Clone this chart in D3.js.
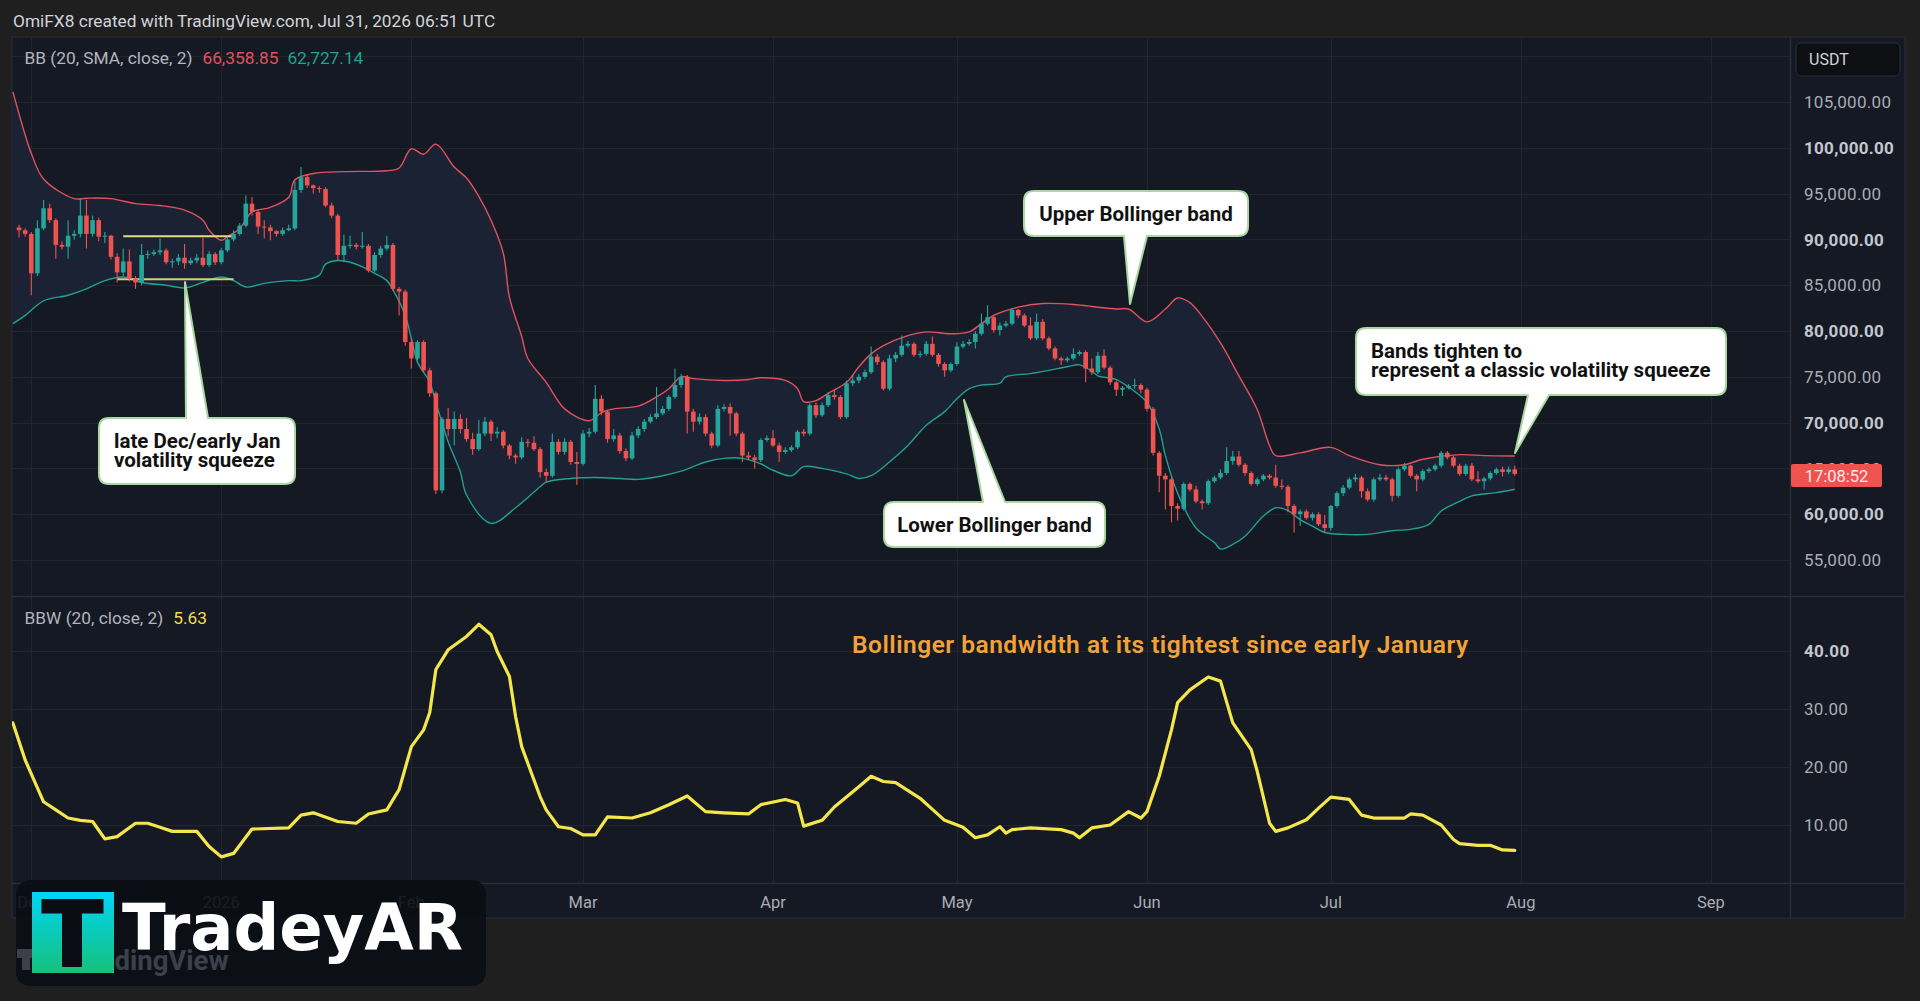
<!DOCTYPE html>
<html><head><meta charset="utf-8">
<script src="https://cdn.jsdelivr.net/npm/d3@7"></script>
<style>
html,body{margin:0;padding:0;background:#1e1e1e;overflow:hidden;}
svg{display:block;}
text{font-family:Roboto,"Noto Sans",sans-serif;}
</style></head><body>
<svg id="c" width="1920" height="1001"></svg>
<script>
// ===== DATA (prices in thousands USDT, daily candles from 2025-11-29) =====
const candleStart = "2025-11-29";
const opens = [91.3,91.0,90.6,86.3,91.2,93.4,92.1,89.4,89.2,90.4,
90.6,92.6,90.6,92.1,90.3,90.4,88.1,86.4,87.6,85.7,
85.3,88.3,88.4,88.6,88.8,87.5,87.6,88.0,87.4,87.7,
88.0,87.2,88.4,87.5,88.8,90.0,90.6,91.5,93.9,93.0,
91.4,91.3,90.9,90.6,91.0,91.2,95.4,96.8,95.9,95.6,
95.5,93.7,92.6,88.3,89.3,89.4,89.2,89.3,86.6,88.3,
89.0,89.4,84.6,84.3,78.8,77.0,78.8,75.7,73.2,62.6,
70.4,69.3,70.4,69.3,68.2,67.1,68.8,70.1,68.8,69.0,
67.5,66.4,66.2,67.9,67.8,67.1,64.6,64.2,67.9,66.8,
67.9,65.7,65.5,68.8,69.0,72.6,71.2,68.2,68.6,66.9,
66.1,68.6,69.3,70.1,70.6,71.0,71.5,72.8,74.1,75.0,
71.2,70.1,70.6,68.8,67.5,71.5,71.7,71.0,68.8,66.4,
66.2,65.9,68.1,68.3,67.5,66.8,67.0,67.3,69.0,68.8,
71.9,70.8,71.9,73.0,72.8,70.6,74.3,74.6,75.0,75.5,
77.2,76.6,73.7,77.0,77.4,78.4,78.6,77.4,77.5,78.6,
77.4,76.4,75.7,76.4,78.3,78.6,78.8,79.7,80.8,81.5,
80.1,80.6,80.8,82.3,81.7,80.6,79.2,81.0,79.2,78.1,
77.0,76.8,77.0,77.5,77.7,75.9,75.5,77.3,76.0,74.4,
73.6,73.8,74.0,74.1,73.6,71.5,66.7,64.2,63.8,60.9,
60.6,63.3,62.7,61.4,61.2,63.6,64.0,64.5,65.8,66.3,
65.4,64.5,63.3,63.8,64.2,64.0,63.1,63.0,60.9,60.0,
60.3,59.6,60.0,58.9,58.5,60.9,62.3,62.9,63.8,64.0,
62.5,61.6,63.8,64.0,63.8,62.0,64.9,65.3,64.2,63.8,
64.7,64.9,65.3,66.7,66.2,65.3,64.4,65.3,63.8,63.6,
63.9,64.5,64.9,64.6,64.9];
const highs = [91.6,91.2,90.8,92.1,94.3,93.9,92.3,89.8,92.1,91.0,
94.5,94.3,92.6,92.4,90.8,90.5,88.5,89.0,88.9,86.0,
89.5,88.8,88.9,90.1,89.0,87.9,88.4,89.5,88.0,88.4,
90.2,88.7,88.6,89.1,90.3,91.0,91.8,94.8,94.6,93.3,
92.1,91.6,91.0,91.3,91.6,96.4,97.9,97.1,96.0,95.8,
95.7,94.0,92.8,90.5,90.4,89.6,90.8,89.5,88.6,89.3,
90.4,89.6,84.8,84.5,79.2,79.0,79.0,76.0,73.4,70.6,
71.6,71.2,70.9,70.5,68.9,70.3,70.6,70.3,69.5,69.2,
67.7,66.6,68.4,68.2,68.5,67.3,65.0,68.8,68.2,68.3,
68.1,66.8,69.2,69.4,74.1,73.0,71.4,69.3,68.9,67.2,
69.0,69.6,70.4,70.9,73.9,71.8,73.0,75.9,75.3,75.2,
71.5,71.0,70.9,69.0,71.9,72.0,72.1,71.2,69.0,66.8,
66.5,68.3,68.6,69.2,67.8,67.3,67.5,69.2,69.3,72.1,
72.2,72.2,73.3,73.5,73.0,74.6,75.2,75.3,75.8,78.3,
77.5,76.8,77.4,77.7,79.5,78.9,78.8,77.8,78.9,79.4,
77.6,76.6,76.6,78.8,78.9,79.1,80.0,81.9,82.8,81.7,
80.9,81.1,82.5,82.4,81.9,81.5,81.9,81.3,79.4,78.3,
77.2,77.2,78.1,77.9,77.9,77.0,77.7,78.0,76.2,74.6,
74.0,74.2,74.8,74.3,73.8,71.7,66.9,64.5,64.0,61.2,
63.5,63.5,63.1,61.6,63.8,64.2,64.9,67.3,66.9,66.9,
65.6,64.7,64.0,64.4,64.4,65.4,63.8,63.2,61.1,60.5,
60.5,60.2,60.2,59.9,61.0,62.5,63.2,64.0,64.4,64.2,
62.8,64.0,64.4,64.3,64.0,65.1,65.6,65.4,64.4,64.9,
65.1,65.5,66.9,66.9,66.4,65.5,65.5,65.6,64.7,64.1,
64.7,65.1,65.2,65.2,65.3];
const lows = [90.2,90.3,83.9,86.0,91.0,91.8,87.9,88.9,87.9,90.0,
90.2,89.0,90.3,89.8,89.6,87.8,85.3,86.0,85.4,84.6,
85.0,87.9,88.2,88.3,87.3,86.9,87.2,86.8,87.2,87.4,
87.0,87.0,87.2,87.3,88.6,89.8,90.4,91.3,92.6,90.6,
90.1,89.9,90.3,90.4,90.9,91.0,95.1,95.6,95.0,95.1,
93.5,92.3,87.7,87.5,89.0,88.9,89.0,86.4,86.4,88.0,
88.8,84.4,81.7,78.4,75.9,76.8,75.5,72.8,62.2,62.3,
68.5,67.5,68.8,67.9,66.5,66.9,68.5,68.0,68.3,67.2,
66.0,65.5,66.0,67.3,66.9,64.0,63.5,64.0,66.5,66.5,
65.4,63.2,65.3,68.4,68.8,70.8,67.8,67.9,66.6,65.8,
65.9,68.3,69.0,69.9,70.4,70.8,71.3,72.6,73.8,68.8,
69.0,69.8,68.5,67.2,67.3,71.2,68.6,68.5,65.7,65.9,
65.0,65.7,67.9,67.3,65.7,66.6,66.8,67.1,68.5,68.6,
70.5,70.6,71.7,72.5,70.4,70.4,74.0,74.3,74.8,75.3,
76.3,73.5,73.5,76.6,77.2,78.2,77.2,77.1,77.3,77.2,
76.1,75.0,75.5,76.2,78.1,78.4,78.1,79.5,80.6,79.8,
79.5,80.4,80.6,81.4,80.4,79.0,79.0,79.0,77.9,76.8,
76.3,76.6,76.8,77.3,74.4,75.2,75.3,75.8,74.1,72.9,
72.9,73.6,73.7,73.2,71.2,66.4,62.4,60.5,59.1,59.3,
60.4,62.5,61.2,60.5,61.0,63.4,63.8,64.3,65.4,65.2,
64.2,63.1,63.1,63.6,63.8,62.9,62.7,60.2,58.0,58.7,
59.4,59.3,58.7,58.0,58.2,60.7,62.0,62.7,63.5,61.8,
61.4,61.4,63.6,63.6,61.4,61.8,64.7,64.0,62.5,63.6,
64.5,64.7,65.1,66.0,65.1,64.2,64.2,63.6,63.4,62.7,
63.7,64.3,64.1,64.4,64.2];
const closes = [91.0,90.6,86.3,91.2,93.4,92.1,89.4,89.2,90.4,90.6,
92.6,90.6,92.1,90.3,90.4,88.1,86.4,87.6,85.7,85.3,
88.3,88.4,88.6,88.8,87.5,87.6,88.0,87.4,87.7,88.0,
87.2,88.4,87.5,88.8,90.0,90.6,91.5,93.9,93.0,91.4,
91.3,90.9,90.6,91.0,91.2,95.4,96.8,95.9,95.6,95.5,
93.7,92.6,88.3,89.3,89.4,89.2,89.3,86.6,88.3,89.0,
89.4,84.6,84.3,78.8,77.0,78.8,75.7,73.2,62.6,70.4,
69.3,70.4,69.3,68.2,67.1,68.8,70.1,68.8,69.0,67.5,
66.4,66.2,67.9,67.8,67.1,64.6,64.2,67.9,66.8,67.9,
65.7,65.5,68.8,69.0,72.6,71.2,68.2,68.6,66.9,66.1,
68.6,69.3,70.1,70.6,71.0,71.5,72.8,74.1,75.0,71.2,
70.1,70.6,68.8,67.5,71.5,71.7,71.0,68.8,66.4,66.2,
65.9,68.1,68.3,67.5,66.8,67.0,67.3,69.0,68.8,71.9,
70.8,71.9,73.0,72.8,70.6,74.3,74.6,75.0,75.5,77.2,
76.6,73.7,77.0,77.4,78.4,78.6,77.4,77.5,78.6,77.4,
76.4,75.7,76.4,78.3,78.6,78.8,79.7,80.8,81.5,80.1,
80.6,80.8,82.3,81.7,80.6,79.2,81.0,79.2,78.1,77.0,
76.8,77.0,77.5,77.7,75.9,75.5,77.3,76.0,74.4,73.6,
73.8,74.0,74.1,73.6,71.5,66.7,64.2,63.8,60.9,60.6,
63.3,62.7,61.4,61.2,63.6,64.0,64.5,65.8,66.3,65.4,
64.5,63.3,63.8,64.2,64.0,63.1,63.0,60.9,60.0,60.3,
59.6,60.0,58.9,58.5,60.9,62.3,62.9,63.8,64.0,62.5,
61.6,63.8,64.0,63.8,62.0,64.9,65.3,64.2,63.8,64.7,
64.9,65.3,66.7,66.2,65.3,64.4,65.3,63.8,63.6,63.9,
64.5,64.9,64.6,64.9,64.4];

// Bollinger bands (day index from candleStart, value in thousands)
const upperDay = [-1,1,2,4,9,11,15,19,23,27,30,31,33,34,36,38,41,44,45,48,53,60,62,64,66,68,71,73,75,77,79,80,82,83,86,89,93,95,97,101,104,106,108,110,115,119,121,125,127,128,130,132,135,137,139,141,145,148,152,155,157,159,163,167,172,176,179,181,184,187,189,191,193,196,199,202,204,205,209,214,217,222,226,229,235,239,244];
const upperVal = [106.1,101.4,99.4,96.6,94.45,94.5,94.45,93.9,93.7,93.2,92.1,91.0,89.9,90.3,91.2,93.0,93.5,94.6,96.5,97.2,97.4,97.5,97.8,99.9,99.3,100.4,97.9,96.7,94.7,92.1,88.5,83.7,79.4,77.0,74.4,71.5,70.2,71.1,71.5,71.8,72.8,73.7,75.0,74.8,74.6,74.7,74.9,74.6,73.7,72.3,72.4,73.2,74.4,76.1,77.5,78.4,79.5,79.9,79.7,79.9,80.8,81.7,82.6,83.0,82.9,82.6,82.4,82.4,81.0,82.4,83.6,83.1,81.6,78.7,75.1,71.4,67.5,66.4,66.7,67.3,66.4,65.4,65.4,66.0,66.5,66.4,66.36];
const lowerDay = [-1,1,4,8,11,14,17,20,24,27,30,33,35,37,40,44,46,49,50,52,54,56,58,60,61,63,64,65,67,68,70,72,73,77,81,85,86,90,94,98,101,105,108,112,115,118,121,123,126,128,131,135,137,139,142,145,148,151,153,155,157,160,161,165,168,171,173,175,176,179,182,184,186,187,189,192,195,196,198,200,203,205,207,209,211,213,216,220,224,227,230,232,235,237,241,244];
const lowerVal = [80.8,81.7,83.3,83.9,84.6,85.5,85.9,85.3,85.0,84.7,85.3,85.9,85.5,84.8,85.2,85.5,85.5,86.1,87.3,87.7,87.5,87.0,86.3,85.5,84.5,81.7,79.2,76.6,74.4,72.2,67.9,64.6,62.1,59.0,60.7,63.0,63.5,63.9,64.0,63.9,63.8,64.2,64.7,65.7,66.1,66.1,65.5,64.8,64.2,65.2,65.0,64.4,63.9,64.2,65.7,67.5,69.7,71.2,72.6,73.7,74.1,74.3,75.0,75.35,75.7,76.1,76.3,75.6,75.1,74.7,73.4,72.2,69.3,66.4,62.3,58.5,56.9,56.2,56.7,57.6,59.8,60.7,60.4,59.4,58.7,58.0,57.8,57.8,58.2,58.35,58.9,60.35,61.4,62.0,62.35,62.73];

// Bollinger bandwidth (BBW 20, close, 2)
const bbwDay = [-1,1,4,6,8,10,12,14,16,19,21,23,25,29,31,33,35,38,44,46,48,52,55,57,60,62,64,66,67,68,70,73,75,77,78,80,81,82,85,86,88,90,92,94,96,100,103,106,109,112,115,119,121,125,127,128,131,133,137,139,141,143,147,149,151,154,156,158,160,161,162,165,170,172,173,175,178,181,183,184,186,188,189,191,194,196,198,201,202,204,205,207,210,212,214,217,219,221,226,227,229,232,234,235,238,240,242,244];
const bbwVal = [27.6,21.2,14.0,12.6,11.2,10.8,10.6,7.6,8.0,10.3,10.3,9.6,8.9,8.9,6.3,4.5,5.1,9.3,9.5,11.7,12.1,10.6,10.3,11.9,12.6,16.1,23.5,26.4,29.4,36.8,40.2,42.5,44.6,42.8,39.9,35.6,28.7,23.5,14.9,12.6,9.7,9.4,8.3,8.3,11.4,11.2,12.1,13.5,15.0,12.3,12.1,11.9,13.5,14.4,13.8,9.8,10.8,13.1,16.6,18.4,17.5,17.3,14.6,12.7,10.8,9.6,7.8,8.3,9.7,8.6,9.2,9.5,9.2,8.6,7.8,9.5,10.0,12.3,11.2,12.3,18.4,26.4,31.1,33.3,35.5,34.8,27.6,23.0,19.2,10.3,8.9,9.5,10.9,12.9,14.8,14.4,11.7,11.2,11.2,11.9,11.7,10.0,7.5,6.8,6.5,6.5,5.7,5.63];

const priceTicks = [55,60,65,70,75,80,85,90,95,100,105,110];
const priceLabelTicks = [55,60,65,70,75,80,85,90,95,100,105];
const bbwTicks = [10,20,30,40];
const squeezeLines = [{from:"2025-12-16",to:"2026-01-03",price:90.35,color:"#e3dc86"},
                      {from:"2025-12-15",to:"2026-01-03",price:85.65,color:"#cfd574"}];
const legendBB = {label:"BB (20, SMA, close, 2)", upper:"66,358.85", lower:"62,727.14"};
const legendBBW = {label:"BBW (20, close, 2)", value:"5.63"};

// ===== LAYOUT =====
const dayMs = 864e5;
const t0 = Date.parse(candleStart + "T00:00:00Z");
const dateOf = i => new Date(t0 + i * dayMs);
const mar1 = Date.UTC(2026,2,1);
const L = 12, R = 1790, PR = 1905;
const mainTop = 37, mainBot = 596, lowTop = 597, lowBot = 883, axBot = 918;

const x = d3.scaleUtc().domain([new Date(mar1 - 93.148*dayMs), new Date(mar1 + 196.9*dayMs)]).range([L, R]);
const y = d3.scaleLinear().domain([51.07, 112.096]).range([mainBot, mainTop]);
const yb = d3.scaleLinear().domain([0, 49.3]).range([lowBot, lowTop]);

const svg = d3.select("#c");
const defs = svg.append("defs");
defs.append("clipPath").attr("id","clipMain").append("rect").attr("x",L).attr("y",mainTop).attr("width",R-L).attr("height",mainBot-mainTop);
defs.append("clipPath").attr("id","clipLow").append("rect").attr("x",L).attr("y",lowTop).attr("width",R-L).attr("height",lowBot-lowTop);
const lg = defs.append("linearGradient").attr("id","logoGrad").attr("x1",0).attr("y1",0).attr("x2",0).attr("y2",1);
lg.append("stop").attr("offset","0%").attr("stop-color","#00d3f7");
lg.append("stop").attr("offset","100%").attr("stop-color","#15c27a");

svg.append("rect").attr("width",1920).attr("height",1001).attr("fill","#1f1f1f");
svg.append("text").attr("x",13).attr("y",21).attr("dy","0.35em").attr("fill","#d1d4dc")
  .attr("font-size",17.3).text("OmiFX8 created with TradingView.com, Jul 31, 2026 06:51 UTC");
svg.append("rect").attr("x",L).attr("y",mainTop).attr("width",PR-L).attr("height",axBot-mainTop)
  .attr("fill","#151924").attr("stroke","#2a2e39").attr("stroke-width",1);

// grid
const grid = svg.append("g").attr("stroke","#21252f").attr("stroke-width",1);
const months = d3.utcMonth.range(new Date(Date.UTC(2025,11,1)), new Date(Date.UTC(2026,9,1)));
months.forEach(m => {
  const xx = Math.round(x(m)) + 0.5;
  grid.append("line").attr("x1",xx).attr("x2",xx).attr("y1",mainTop).attr("y2",lowBot);
});
priceTicks.forEach(p => {
  const yy = Math.round(y(p)) + 0.5;
  grid.append("line").attr("x1",L).attr("x2",R).attr("y1",yy).attr("y2",yy);
});
bbwTicks.forEach(v => {
  const yy = Math.round(yb(v)) + 0.5;
  grid.append("line").attr("x1",L).attr("x2",R).attr("y1",yy).attr("y2",yy);
});

// separators
const sep = svg.append("g").attr("stroke","#2a2e39").attr("stroke-width",1.5);
sep.append("line").attr("x1",L).attr("x2",PR).attr("y1",mainBot+0.5).attr("y2",mainBot+0.5);
sep.append("line").attr("x1",L).attr("x2",PR).attr("y1",lowBot+0.5).attr("y2",lowBot+0.5);
sep.append("line").attr("x1",R+0.5).attr("x2",R+0.5).attr("y1",mainTop).attr("y2",axBot);

// ===== MAIN PANE =====
const main = svg.append("g").attr("clip-path","url(#clipMain)");
const upPts = upperDay.map((d,i)=>[x(dateOf(d)), y(upperVal[i])]);
const loPts = lowerDay.map((d,i)=>[x(dateOf(d)), y(lowerVal[i])]);
const lineGen = d3.line().curve(d3.curveCatmullRom.alpha(0.5));
const upD = lineGen(upPts), loRevD = lineGen(loPts.slice().reverse());
main.append("path").attr("d", upD + "L" + loRevD.slice(1) + "Z").attr("fill","#1b2336").attr("opacity",0.95);
main.append("path").attr("d", upD).attr("fill","none").attr("stroke","#e2515e").attr("stroke-width",1.4);
main.append("path").attr("d", lineGen(loPts)).attr("fill","none").attr("stroke","#23a08f").attr("stroke-width",1.4);

// squeeze lines
squeezeLines.forEach(s => {
  main.append("line").attr("x1",x(new Date(s.from+"T00:00:00Z"))).attr("x2",x(new Date(s.to+"T00:00:00Z")))
    .attr("y1",y(s.price)).attr("y2",y(s.price)).attr("stroke",s.color).attr("stroke-width",2);
});

// candles
const up = "#26a69a", dn = "#ef5350";
const cg = main.append("g");
closes.forEach((c,i) => {
  const o = opens[i], h = highs[i], l = lows[i];
  const col = c >= o ? up : dn;
  const cx = x(dateOf(i));
  cg.append("line").attr("x1",cx).attr("x2",cx).attr("y1",y(h)).attr("y2",y(l)).attr("stroke",col).attr("stroke-width",1.1);
  const top = y(Math.max(o,c)), bot = y(Math.min(o,c));
  cg.append("rect").attr("x",cx-2.3).attr("width",4.6).attr("y",top).attr("height",Math.max(1,bot-top)).attr("fill",col);
});

// ===== LOWER PANE =====
const low = svg.append("g").attr("clip-path","url(#clipLow)");
low.append("path").attr("d", d3.line().curve(d3.curveLinear)(bbwDay.map((d,i)=>[x(dateOf(d)), yb(bbwVal[i])])))
  .attr("fill","none").attr("stroke","#f5e74b").attr("stroke-width",3.2).attr("stroke-linejoin","round").attr("stroke-linecap","round");

// ===== AXES =====
const fmtP = d3.format(",.2f");
const ax = svg.append("g");
priceLabelTicks.forEach(p => {
  ax.append("text").attr("x",1804).attr("y",y(p)).attr("dy","0.36em").attr("font-size",17).attr("letter-spacing",0.3)
    .attr("font-weight", p % 10 === 0 ? 700 : 400).attr("fill", p % 10 === 0 ? "#c3c6ce" : "#a9acb5").text(fmtP(p*1000));
});
bbwTicks.forEach(v => {
  ax.append("text").attr("x",1804).attr("y",yb(v)).attr("dy","0.36em").attr("font-size",17).attr("letter-spacing",0.3)
    .attr("font-weight", v === 40 ? 700 : 400).attr("fill", v===40 ? "#c3c6ce" : "#a9acb5").text(d3.format(".2f")(v));
});
months.forEach(m => {
  const label = m.getUTCMonth() === 0 ? String(m.getUTCFullYear()) : d3.utcFormat("%b")(m);
  ax.append("text").attr("x",x(m)).attr("y",902).attr("dy","0.35em").attr("text-anchor","middle")
    .attr("font-size",16.5).attr("fill","#a9acb5").text(label);
});

// USDT box
svg.append("rect").attr("x",1796).attr("y",43).attr("width",104).attr("height",33).attr("rx",5)
  .attr("fill","#0e0f13").attr("stroke","#2a2e39");
svg.append("text").attr("x",1809).attr("y",59.5).attr("dy","0.35em").attr("font-size",16).attr("fill","#d1d4dc").text("USDT");

// last price label
svg.append("rect").attr("x",1791).attr("y",464).attr("width",91).attr("height",23).attr("rx",2).attr("fill","#ef5350");
svg.append("text").attr("x",1836.5).attr("y",476).attr("dy","0.35em").attr("text-anchor","middle")
  .attr("font-size",16.5).attr("fill","#fbe9ea").text("17:08:52");

// legends
const lgd = svg.append("text").attr("x",24.5).attr("y",57.5).attr("dy","0.35em").attr("font-size",17.3);
lgd.append("tspan").attr("fill","#b2b5be").text(legendBB.label);
lgd.append("tspan").attr("dx",10).attr("fill","#e2515e").text(legendBB.upper);
lgd.append("tspan").attr("dx",9).attr("fill","#23a08f").text(legendBB.lower);
const lgd2 = svg.append("text").attr("x",24.5).attr("y",618).attr("dy","0.35em").attr("font-size",17.3);
lgd2.append("tspan").attr("fill","#b2b5be").text(legendBBW.label);
lgd2.append("tspan").attr("dx",10).attr("fill","#eedc4f").text(legendBBW.value);

// ===== ANNOTATIONS =====
function calloutPath(b, p) {
  const {x:X, y:Y, w, h, r} = b; const RR = X + w, B = Y + h;
  let d = `M${X+r},${Y}`;
  if (p.side === "top") d += `L${p.a},${Y}L${p.tx},${p.ty}L${p.c},${Y}`;
  d += `L${RR-r},${Y}Q${RR},${Y} ${RR},${Y+r}L${RR},${B-r}Q${RR},${B} ${RR-r},${B}`;
  if (p.side === "bottom") d += `L${p.c},${B}L${p.tx},${p.ty}L${p.a},${B}`;
  d += `L${X+r},${B}Q${X},${B} ${X},${B-r}L${X},${Y+r}Q${X},${Y} ${X+r},${Y}Z`;
  return d;
}
const callouts = [
  {box:{x:99,y:418,w:196,h:66,r:10}, ptr:{side:"top",a:186,c:208,tx:185,ty:282},
   lines:["late Dec/early Jan","volatility squeeze"], tx:114, ty:[441,460], anchor:"start"},
  {box:{x:1024,y:191,w:224,h:45,r:10}, ptr:{side:"bottom",a:1124,c:1147,tx:1130,ty:304},
   lines:["Upper Bollinger band"], tx:1136, ty:[213.5], anchor:"middle"},
  {box:{x:1356,y:328,w:370,h:67,r:10}, ptr:{side:"bottom",a:1528,c:1549,tx:1515,ty:453},
   lines:["Bands tighten to","represent a classic volatility squeeze"], tx:1371, ty:[351,370], anchor:"start"},
  {box:{x:884,y:502,w:221,h:45,r:10}, ptr:{side:"top",a:983,c:1005,tx:964,ty:400},
   lines:["Lower Bollinger band"], tx:994.5, ty:[525], anchor:"middle"}
];
callouts.forEach(co => {
  svg.append("path").attr("d", calloutPath(co.box, co.ptr)).attr("fill","#ffffff")
    .attr("stroke","#a9d8a0").attr("stroke-width",2).attr("stroke-linejoin","round");
  co.lines.forEach((t,k) => {
    svg.append("text").attr("x",co.tx).attr("y",co.ty[k]).attr("dy","0.35em").attr("text-anchor",co.anchor)
      .attr("font-size",20.5).attr("font-weight",700).attr("fill","#111111").text(t);
  });
});
svg.append("text").attr("x",852).attr("y",644).attr("dy","0.35em").attr("font-size",24.5).attr("font-weight",600)
  .attr("letter-spacing",0.5).attr("fill","#f2a23a").text("Bollinger bandwidth at its tightest since early January");

// ===== LOGO =====
svg.append("rect").attr("x",16).attr("y",880).attr("width",470).attr("height",106).attr("rx",14)
  .attr("fill","#0b0d15").attr("opacity",0.9);
svg.append("text").attr("x",74).attr("y",970).attr("font-size",27.5).attr("font-weight",700)
  .attr("fill","#3d404a").text("TradingView");
svg.append("rect").attr("x",17).attr("y",949).attr("width",15).attr("height",9).attr("fill","#3d404a");
svg.append("rect").attr("x",22).attr("y",949).attr("width",8).attr("height",21).attr("fill","#3d404a");
svg.append("rect").attr("x",32).attr("y",892).attr("width",82).attr("height",81).attr("fill","url(#logoGrad)");
svg.append("rect").attr("x",41.5).attr("y",899).attr("width",62).attr("height",14.5).attr("fill","#0b0d15");
svg.append("rect").attr("x",62).attr("y",899).attr("width",20).attr("height",68).attr("fill","#0b0d15");
svg.append("text").attr("x",122).attr("y",950).style("font-family","'DejaVu Sans', sans-serif").attr("font-size",64)
  .attr("font-weight",700).attr("fill","#ffffff").text("TradeyAR");
</script>
</body></html>
